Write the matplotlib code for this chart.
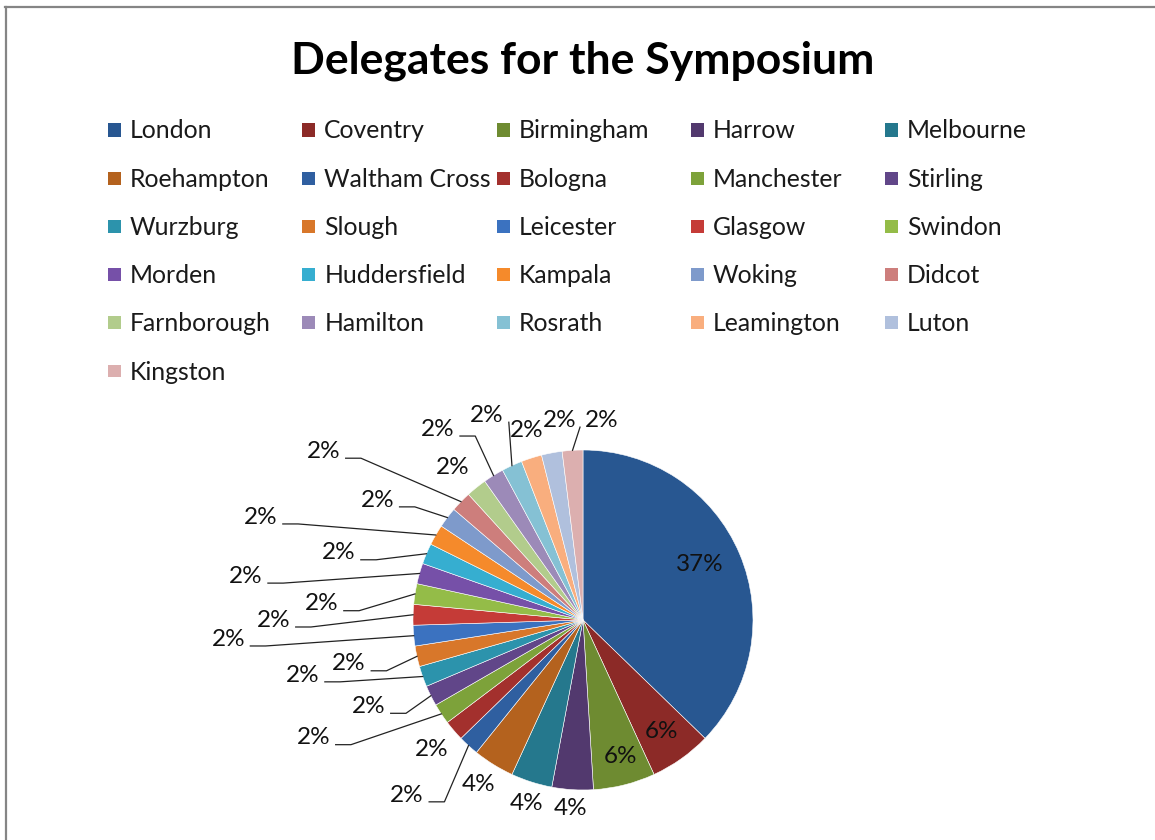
import numpy as np
import matplotlib.pyplot as plt
from matplotlib.patches import Rectangle
from matplotlib.lines import Line2D

plt.rcParams['font.family'] = ['Lato', 'DejaVu Sans']

# data: delegates per city
cities = ['London', 'Coventry', 'Birmingham', 'Harrow', 'Melbourne',
          'Roehampton', 'Waltham Cross', 'Bologna', 'Manchester', 'Stirling',
          'Wurzburg', 'Slough', 'Leicester', 'Glasgow', 'Swindon',
          'Morden', 'Huddersfield', 'Kampala', 'Woking', 'Didcot',
          'Farnborough', 'Hamilton', 'Rosrath', 'Leamington', 'Luton',
          'Kingston']
delegates = [19, 3, 3, 2, 2, 2, 1, 1, 1, 1, 1, 1, 1, 1, 1, 1, 1, 1, 1, 1,
             1, 1, 1, 1, 1, 1]
colors = ['#285791', '#8C2A27', '#6E8B31', '#52396E', '#25788D', '#B4621E',
          '#2F5FA0', '#A3302D', '#7DA23A', '#614689', '#2C93AC', '#D8772A',
          '#3B72C0', '#C53B37', '#94BC48', '#7650A8', '#36AED0', '#F58A2B',
          '#7E9ACB', '#CD7E7C', '#B2CC8C', '#9C8AB8', '#85C1D4', '#F9AE7E',
          '#B0C0DD', '#DCAFAF']

# label layout (distance in pie radii, angle nudge in degrees, leader line)
label_r = [0.76, 0.80, 0.83, 1.11, 1.13, 1.15, 1.46, 1.17, 1.73, 1.36,
           1.68, 1.40, 2.09, 1.82, 1.54, 2.00, 1.49, 1.99, 1.40, 1.82,
           1.18, 1.41, 1.33, 1.16, 1.18, 1.18]
label_nudge = [-2.7, 0.2, -1.1, 0.2, -0.6, 0.7, 2.8, -0.1, 9.9, 4.5,
               8.3, 1.7, 2.2, -1.8, -5.3, -8.5, -7.6, -12.3, -6.8, -11.1,
               -1.7, -5.5, -0.5, 1.1, 4.0, 9.0]
leader = [0, 0, 0, 0, 0, 0, 1, 0, 1, 1, 1, 1, 1, 1, 1, 1, 1, 1, 1, 1,
          0, 1, 1, 0, 0, 1]

W, H = 1155, 840
fig = plt.figure(figsize=(W / 100, H / 100), dpi=100)

# frame lines of the pasted chart
fig.add_artist(Line2D([5 / W, 1], [1 - 6.5 / H, 1 - 6.5 / H],
                      transform=fig.transFigure, color='#858585', lw=1.6))
fig.add_artist(Line2D([5.5 / W, 5.5 / W], [0, 1 - 6.5 / H],
                      transform=fig.transFigure, color='#858585', lw=1.6))

fig.text(583 / W, 1 - 61 / H, 'Delegates for the Symposium', ha='center',
         va='center', fontsize=32, fontweight='bold')

# legend as a fixed grid like Excel
ncol = 5
for i, (name, c) in enumerate(zip(cities, colors)):
    row, col = divmod(i, ncol)
    x0 = 108 + col * 194.3
    y0 = 130 + row * 48.2
    fig.add_artist(Rectangle((x0 / W, 1 - (y0 + 6.5) / H), 13 / W, 13 / H,
                             transform=fig.transFigure, facecolor=c,
                             edgecolor='none'))
    fig.text((x0 + 22) / W, 1 - (y0 + 1) / H, name, ha='left', va='center',
             fontsize=17.8, color='#1a1a1a')

# pie
R = 170
cx, cy = 583, 620
ax = fig.add_axes([(cx - R) / W, (H - cy - R) / H, 2 * R / W, 2 * R / H])
ax.pie(delegates, colors=colors, startangle=90, counterclock=False,
       wedgeprops=dict(edgecolor='white', linewidth=0.4))
ax.set_xlim(-1, 1)
ax.set_ylim(-1, 1)
ax.set_aspect('equal')
ax.axis('off')

total = sum(delegates)
cum = np.cumsum(delegates)
for i, v in enumerate(delegates):
    mid = 360 * (cum[i] - v / 2) / total
    th = np.radians(90 - (mid + label_nudge[i]))
    xl, yl = label_r[i] * np.cos(th), label_r[i] * np.sin(th)
    pct = '%d%%' % round(100 * v / total)
    ax.text(xl, yl, pct, ha='center', va='center', fontsize=17.5,
            color='#111111', clip_on=False)
    if leader[i]:
        tm = np.radians(90 - mid)
        ex, ey = np.cos(tm), np.sin(tm)
        s = 1 if ex > xl else -1
        sx, sy = xl + s * 0.13, yl - 0.04
        if abs(ex - sx) > 0.7 * abs(ey - sy) and s > 0:
            px = [sx, sx + 0.09, ex]
            py = [sy, sy, ey]
        else:
            px = [sx, ex]
            py = [sy, ey]
        ax.plot(px, py, color='#222222', lw=0.9, clip_on=False)

fig.savefig('out.png', dpi=100)
